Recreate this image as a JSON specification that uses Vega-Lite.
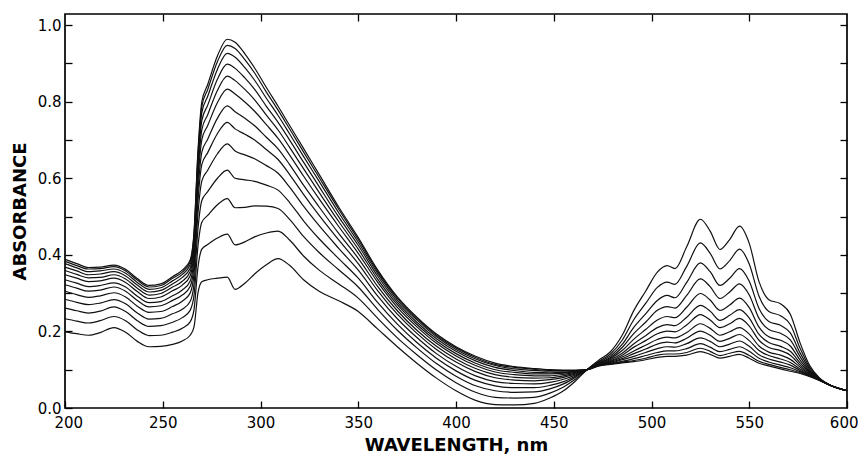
{
"$schema": "https://vega.github.io/schema/vega-lite/v6.json",
"width": 782, "height": 394,
"autosize": {"type": "none"},
"padding": {"left": 65, "top": 14, "right": 11, "bottom": 47},
"background": "white",
"config": {
 "view": {"stroke": "#000", "strokeWidth": 1.7},
 "axis": {"domain": false, "grid": false, "labelFlush": false, "tickColor": "#000", "tickWidth": 1.3, "labelColor": "#000", "titleColor": "#000", "labelFont": "DejaVu Sans", "labelFontSize": 15, "titleFont": "DejaVu Sans", "titleFontSize": 18, "titleFontWeight": "bold"}
},
"datasets": {"spectra": [
{"c":0,"w":200,"a":0.199},{"c":0,"w":206,"a":0.194},{"c":0,"w":212,"a":0.190},{"c":0,"w":218,"a":0.197},{"c":0,"w":225,"a":0.210},{"c":0,"w":231,"a":0.198},{"c":0,"w":237,"a":0.174},{"c":0,"w":243,"a":0.160},{"c":0,"w":249,"a":0.161},{"c":0,"w":255,"a":0.166},{"c":0,"w":260,"a":0.175},{"c":0,"w":264,"a":0.190},{"c":0,"w":266,"a":0.212},{"c":0,"w":268,"a":0.300},{"c":0,"w":270,"a":0.330},{"c":0,"w":273,"a":0.335},{"c":0,"w":278,"a":0.339},{"c":0,"w":283,"a":0.342},{"c":0,"w":287,"a":0.310},{"c":0,"w":292,"a":0.326},{"c":0,"w":297,"a":0.350},{"c":0,"w":303,"a":0.374},{"c":0,"w":309,"a":0.390},{"c":0,"w":315,"a":0.372},{"c":0,"w":322,"a":0.335},{"c":0,"w":330,"a":0.305},{"c":0,"w":340,"a":0.280},{"c":0,"w":350,"a":0.252},{"c":0,"w":360,"a":0.206},{"c":0,"w":370,"a":0.160},{"c":0,"w":380,"a":0.117},{"c":0,"w":390,"a":0.078},{"c":0,"w":400,"a":0.045},{"c":0,"w":410,"a":0.020},{"c":0,"w":420,"a":0.009},{"c":0,"w":430,"a":0.008},{"c":0,"w":440,"a":0.012},{"c":0,"w":448,"a":0.026},{"c":0,"w":455,"a":0.045},{"c":0,"w":461,"a":0.070},{"c":0,"w":467,"a":0.100},{"c":0,"w":473,"a":0.125},{"c":0,"w":479,"a":0.147},{"c":0,"w":485,"a":0.190},{"c":0,"w":491,"a":0.255},{"c":0,"w":497,"a":0.305},{"c":0,"w":503,"a":0.355},{"c":0,"w":508,"a":0.372},{"c":0,"w":512,"a":0.364},{"c":0,"w":518,"a":0.421},{"c":0,"w":525,"a":0.493},{"c":0,"w":530,"a":0.462},{"c":0,"w":535,"a":0.414},{"c":0,"w":540,"a":0.440},{"c":0,"w":545,"a":0.475},{"c":0,"w":550,"a":0.430},{"c":0,"w":555,"a":0.330},{"c":0,"w":560,"a":0.283},{"c":0,"w":566,"a":0.272},{"c":0,"w":571,"a":0.245},{"c":0,"w":576,"a":0.170},{"c":0,"w":581,"a":0.110},{"c":0,"w":586,"a":0.078},{"c":0,"w":592,"a":0.058},{"c":0,"w":600,"a":0.045},
{"c":1,"w":200,"a":0.233},{"c":1,"w":206,"a":0.227},{"c":1,"w":212,"a":0.222},{"c":1,"w":218,"a":0.228},{"c":1,"w":225,"a":0.239},{"c":1,"w":231,"a":0.228},{"c":1,"w":237,"a":0.204},{"c":1,"w":243,"a":0.189},{"c":1,"w":249,"a":0.190},{"c":1,"w":255,"a":0.198},{"c":1,"w":260,"a":0.208},{"c":1,"w":264,"a":0.225},{"c":1,"w":266,"a":0.257},{"c":1,"w":268,"a":0.367},{"c":1,"w":270,"a":0.415},{"c":1,"w":273,"a":0.427},{"c":1,"w":278,"a":0.444},{"c":1,"w":283,"a":0.454},{"c":1,"w":287,"a":0.426},{"c":1,"w":292,"a":0.434},{"c":1,"w":297,"a":0.447},{"c":1,"w":303,"a":0.457},{"c":1,"w":309,"a":0.462},{"c":1,"w":315,"a":0.438},{"c":1,"w":322,"a":0.397},{"c":1,"w":330,"a":0.360},{"c":1,"w":340,"a":0.324},{"c":1,"w":350,"a":0.287},{"c":1,"w":360,"a":0.234},{"c":1,"w":370,"a":0.183},{"c":1,"w":380,"a":0.139},{"c":1,"w":390,"a":0.099},{"c":1,"w":400,"a":0.066},{"c":1,"w":410,"a":0.041},{"c":1,"w":420,"a":0.028},{"c":1,"w":430,"a":0.026},{"c":1,"w":440,"a":0.028},{"c":1,"w":448,"a":0.039},{"c":1,"w":455,"a":0.055},{"c":1,"w":461,"a":0.075},{"c":1,"w":467,"a":0.100},{"c":1,"w":473,"a":0.122},{"c":1,"w":479,"a":0.141},{"c":1,"w":485,"a":0.177},{"c":1,"w":491,"a":0.231},{"c":1,"w":497,"a":0.273},{"c":1,"w":503,"a":0.315},{"c":1,"w":508,"a":0.329},{"c":1,"w":512,"a":0.323},{"c":1,"w":518,"a":0.370},{"c":1,"w":525,"a":0.431},{"c":1,"w":530,"a":0.404},{"c":1,"w":535,"a":0.363},{"c":1,"w":540,"a":0.385},{"c":1,"w":545,"a":0.415},{"c":1,"w":550,"a":0.376},{"c":1,"w":555,"a":0.292},{"c":1,"w":560,"a":0.252},{"c":1,"w":566,"a":0.241},{"c":1,"w":571,"a":0.218},{"c":1,"w":576,"a":0.156},{"c":1,"w":581,"a":0.105},{"c":1,"w":586,"a":0.077},{"c":1,"w":592,"a":0.058},{"c":1,"w":600,"a":0.045},
{"c":2,"w":200,"a":0.261},{"c":2,"w":206,"a":0.254},{"c":2,"w":212,"a":0.248},{"c":2,"w":218,"a":0.253},{"c":2,"w":225,"a":0.264},{"c":2,"w":231,"a":0.252},{"c":2,"w":237,"a":0.228},{"c":2,"w":243,"a":0.213},{"c":2,"w":249,"a":0.215},{"c":2,"w":255,"a":0.224},{"c":2,"w":260,"a":0.236},{"c":2,"w":264,"a":0.255},{"c":2,"w":266,"a":0.294},{"c":2,"w":268,"a":0.422},{"c":2,"w":270,"a":0.485},{"c":2,"w":273,"a":0.503},{"c":2,"w":278,"a":0.531},{"c":2,"w":283,"a":0.547},{"c":2,"w":287,"a":0.523},{"c":2,"w":292,"a":0.524},{"c":2,"w":297,"a":0.528},{"c":2,"w":303,"a":0.527},{"c":2,"w":309,"a":0.521},{"c":2,"w":315,"a":0.492},{"c":2,"w":322,"a":0.448},{"c":2,"w":330,"a":0.406},{"c":2,"w":340,"a":0.361},{"c":2,"w":350,"a":0.316},{"c":2,"w":360,"a":0.257},{"c":2,"w":370,"a":0.203},{"c":2,"w":380,"a":0.157},{"c":2,"w":390,"a":0.116},{"c":2,"w":400,"a":0.083},{"c":2,"w":410,"a":0.058},{"c":2,"w":420,"a":0.045},{"c":2,"w":430,"a":0.041},{"c":2,"w":440,"a":0.042},{"c":2,"w":448,"a":0.050},{"c":2,"w":455,"a":0.063},{"c":2,"w":461,"a":0.080},{"c":2,"w":467,"a":0.100},{"c":2,"w":473,"a":0.120},{"c":2,"w":479,"a":0.136},{"c":2,"w":485,"a":0.166},{"c":2,"w":491,"a":0.211},{"c":2,"w":497,"a":0.246},{"c":2,"w":503,"a":0.281},{"c":2,"w":508,"a":0.294},{"c":2,"w":512,"a":0.288},{"c":2,"w":518,"a":0.328},{"c":2,"w":525,"a":0.379},{"c":2,"w":530,"a":0.356},{"c":2,"w":535,"a":0.320},{"c":2,"w":540,"a":0.339},{"c":2,"w":545,"a":0.364},{"c":2,"w":550,"a":0.331},{"c":2,"w":555,"a":0.260},{"c":2,"w":560,"a":0.226},{"c":2,"w":566,"a":0.216},{"c":2,"w":571,"a":0.196},{"c":2,"w":576,"a":0.144},{"c":2,"w":581,"a":0.101},{"c":2,"w":586,"a":0.076},{"c":2,"w":592,"a":0.058},{"c":2,"w":600,"a":0.045},
{"c":3,"w":200,"a":0.284},{"c":3,"w":206,"a":0.276},{"c":3,"w":212,"a":0.270},{"c":3,"w":218,"a":0.274},{"c":3,"w":225,"a":0.283},{"c":3,"w":231,"a":0.272},{"c":3,"w":237,"a":0.248},{"c":3,"w":243,"a":0.232},{"c":3,"w":249,"a":0.234},{"c":3,"w":255,"a":0.246},{"c":3,"w":260,"a":0.258},{"c":3,"w":264,"a":0.278},{"c":3,"w":266,"a":0.324},{"c":3,"w":268,"a":0.467},{"c":3,"w":270,"a":0.542},{"c":3,"w":273,"a":0.565},{"c":3,"w":278,"a":0.600},{"c":3,"w":283,"a":0.621},{"c":3,"w":287,"a":0.600},{"c":3,"w":292,"a":0.596},{"c":3,"w":297,"a":0.592},{"c":3,"w":303,"a":0.582},{"c":3,"w":309,"a":0.569},{"c":3,"w":315,"a":0.536},{"c":3,"w":322,"a":0.489},{"c":3,"w":330,"a":0.442},{"c":3,"w":340,"a":0.390},{"c":3,"w":350,"a":0.339},{"c":3,"w":360,"a":0.275},{"c":3,"w":370,"a":0.219},{"c":3,"w":380,"a":0.171},{"c":3,"w":390,"a":0.130},{"c":3,"w":400,"a":0.097},{"c":3,"w":410,"a":0.072},{"c":3,"w":420,"a":0.058},{"c":3,"w":430,"a":0.053},{"c":3,"w":440,"a":0.053},{"c":3,"w":448,"a":0.059},{"c":3,"w":455,"a":0.069},{"c":3,"w":461,"a":0.083},{"c":3,"w":467,"a":0.100},{"c":3,"w":473,"a":0.118},{"c":3,"w":479,"a":0.132},{"c":3,"w":485,"a":0.158},{"c":3,"w":491,"a":0.195},{"c":3,"w":497,"a":0.224},{"c":3,"w":503,"a":0.255},{"c":3,"w":508,"a":0.265},{"c":3,"w":512,"a":0.261},{"c":3,"w":518,"a":0.294},{"c":3,"w":525,"a":0.337},{"c":3,"w":530,"a":0.317},{"c":3,"w":535,"a":0.286},{"c":3,"w":540,"a":0.303},{"c":3,"w":545,"a":0.324},{"c":3,"w":550,"a":0.295},{"c":3,"w":555,"a":0.234},{"c":3,"w":560,"a":0.205},{"c":3,"w":566,"a":0.195},{"c":3,"w":571,"a":0.178},{"c":3,"w":576,"a":0.134},{"c":3,"w":581,"a":0.097},{"c":3,"w":586,"a":0.075},{"c":3,"w":592,"a":0.058},{"c":3,"w":600,"a":0.045},
{"c":4,"w":200,"a":0.305},{"c":4,"w":206,"a":0.296},{"c":4,"w":212,"a":0.289},{"c":4,"w":218,"a":0.293},{"c":4,"w":225,"a":0.301},{"c":4,"w":231,"a":0.290},{"c":4,"w":237,"a":0.266},{"c":4,"w":243,"a":0.250},{"c":4,"w":249,"a":0.252},{"c":4,"w":255,"a":0.265},{"c":4,"w":260,"a":0.279},{"c":4,"w":264,"a":0.300},{"c":4,"w":266,"a":0.351},{"c":4,"w":268,"a":0.507},{"c":4,"w":270,"a":0.593},{"c":4,"w":273,"a":0.621},{"c":4,"w":278,"a":0.664},{"c":4,"w":283,"a":0.690},{"c":4,"w":287,"a":0.671},{"c":4,"w":292,"a":0.661},{"c":4,"w":297,"a":0.651},{"c":4,"w":303,"a":0.633},{"c":4,"w":309,"a":0.613},{"c":4,"w":315,"a":0.576},{"c":4,"w":322,"a":0.527},{"c":4,"w":330,"a":0.476},{"c":4,"w":340,"a":0.417},{"c":4,"w":350,"a":0.360},{"c":4,"w":360,"a":0.292},{"c":4,"w":370,"a":0.233},{"c":4,"w":380,"a":0.184},{"c":4,"w":390,"a":0.142},{"c":4,"w":400,"a":0.109},{"c":4,"w":410,"a":0.084},{"c":4,"w":420,"a":0.069},{"c":4,"w":430,"a":0.064},{"c":4,"w":440,"a":0.063},{"c":4,"w":448,"a":0.067},{"c":4,"w":455,"a":0.075},{"c":4,"w":461,"a":0.086},{"c":4,"w":467,"a":0.100},{"c":4,"w":473,"a":0.117},{"c":4,"w":479,"a":0.129},{"c":4,"w":485,"a":0.150},{"c":4,"w":491,"a":0.180},{"c":4,"w":497,"a":0.205},{"c":4,"w":503,"a":0.230},{"c":4,"w":508,"a":0.239},{"c":4,"w":512,"a":0.236},{"c":4,"w":518,"a":0.263},{"c":4,"w":525,"a":0.299},{"c":4,"w":530,"a":0.282},{"c":4,"w":535,"a":0.255},{"c":4,"w":540,"a":0.269},{"c":4,"w":545,"a":0.287},{"c":4,"w":550,"a":0.262},{"c":4,"w":555,"a":0.211},{"c":4,"w":560,"a":0.186},{"c":4,"w":566,"a":0.177},{"c":4,"w":571,"a":0.162},{"c":4,"w":576,"a":0.125},{"c":4,"w":581,"a":0.094},{"c":4,"w":586,"a":0.075},{"c":4,"w":592,"a":0.058},{"c":4,"w":600,"a":0.045},
{"c":5,"w":200,"a":0.322},{"c":5,"w":206,"a":0.313},{"c":5,"w":212,"a":0.305},{"c":5,"w":218,"a":0.308},{"c":5,"w":225,"a":0.316},{"c":5,"w":231,"a":0.305},{"c":5,"w":237,"a":0.281},{"c":5,"w":243,"a":0.264},{"c":5,"w":249,"a":0.267},{"c":5,"w":255,"a":0.281},{"c":5,"w":260,"a":0.295},{"c":5,"w":264,"a":0.317},{"c":5,"w":266,"a":0.373},{"c":5,"w":268,"a":0.541},{"c":5,"w":270,"a":0.636},{"c":5,"w":273,"a":0.667},{"c":5,"w":278,"a":0.717},{"c":5,"w":283,"a":0.746},{"c":5,"w":287,"a":0.729},{"c":5,"w":292,"a":0.715},{"c":5,"w":297,"a":0.700},{"c":5,"w":303,"a":0.675},{"c":5,"w":309,"a":0.649},{"c":5,"w":315,"a":0.609},{"c":5,"w":322,"a":0.558},{"c":5,"w":330,"a":0.503},{"c":5,"w":340,"a":0.439},{"c":5,"w":350,"a":0.377},{"c":5,"w":360,"a":0.306},{"c":5,"w":370,"a":0.245},{"c":5,"w":380,"a":0.195},{"c":5,"w":390,"a":0.153},{"c":5,"w":400,"a":0.120},{"c":5,"w":410,"a":0.095},{"c":5,"w":420,"a":0.079},{"c":5,"w":430,"a":0.073},{"c":5,"w":440,"a":0.071},{"c":5,"w":448,"a":0.074},{"c":5,"w":455,"a":0.080},{"c":5,"w":461,"a":0.089},{"c":5,"w":467,"a":0.100},{"c":5,"w":473,"a":0.115},{"c":5,"w":479,"a":0.126},{"c":5,"w":485,"a":0.143},{"c":5,"w":491,"a":0.168},{"c":5,"w":497,"a":0.189},{"c":5,"w":503,"a":0.210},{"c":5,"w":508,"a":0.218},{"c":5,"w":512,"a":0.215},{"c":5,"w":518,"a":0.237},{"c":5,"w":525,"a":0.268},{"c":5,"w":530,"a":0.253},{"c":5,"w":535,"a":0.229},{"c":5,"w":540,"a":0.242},{"c":5,"w":545,"a":0.257},{"c":5,"w":550,"a":0.235},{"c":5,"w":555,"a":0.192},{"c":5,"w":560,"a":0.171},{"c":5,"w":566,"a":0.161},{"c":5,"w":571,"a":0.148},{"c":5,"w":576,"a":0.118},{"c":5,"w":581,"a":0.092},{"c":5,"w":586,"a":0.074},{"c":5,"w":592,"a":0.058},{"c":5,"w":600,"a":0.045},
{"c":6,"w":200,"a":0.335},{"c":6,"w":206,"a":0.326},{"c":6,"w":212,"a":0.317},{"c":6,"w":218,"a":0.320},{"c":6,"w":225,"a":0.327},{"c":6,"w":231,"a":0.316},{"c":6,"w":237,"a":0.292},{"c":6,"w":243,"a":0.275},{"c":6,"w":249,"a":0.278},{"c":6,"w":255,"a":0.293},{"c":6,"w":260,"a":0.308},{"c":6,"w":264,"a":0.331},{"c":6,"w":266,"a":0.391},{"c":6,"w":268,"a":0.566},{"c":6,"w":270,"a":0.668},{"c":6,"w":273,"a":0.702},{"c":6,"w":278,"a":0.757},{"c":6,"w":283,"a":0.789},{"c":6,"w":287,"a":0.774},{"c":6,"w":292,"a":0.757},{"c":6,"w":297,"a":0.737},{"c":6,"w":303,"a":0.707},{"c":6,"w":309,"a":0.677},{"c":6,"w":315,"a":0.635},{"c":6,"w":322,"a":0.582},{"c":6,"w":330,"a":0.525},{"c":6,"w":340,"a":0.456},{"c":6,"w":350,"a":0.391},{"c":6,"w":360,"a":0.317},{"c":6,"w":370,"a":0.254},{"c":6,"w":380,"a":0.203},{"c":6,"w":390,"a":0.161},{"c":6,"w":400,"a":0.128},{"c":6,"w":410,"a":0.103},{"c":6,"w":420,"a":0.087},{"c":6,"w":430,"a":0.080},{"c":6,"w":440,"a":0.078},{"c":6,"w":448,"a":0.079},{"c":6,"w":455,"a":0.084},{"c":6,"w":461,"a":0.091},{"c":6,"w":467,"a":0.100},{"c":6,"w":473,"a":0.114},{"c":6,"w":479,"a":0.123},{"c":6,"w":485,"a":0.138},{"c":6,"w":491,"a":0.159},{"c":6,"w":497,"a":0.176},{"c":6,"w":503,"a":0.194},{"c":6,"w":508,"a":0.201},{"c":6,"w":512,"a":0.199},{"c":6,"w":518,"a":0.217},{"c":6,"w":525,"a":0.244},{"c":6,"w":530,"a":0.230},{"c":6,"w":535,"a":0.210},{"c":6,"w":540,"a":0.220},{"c":6,"w":545,"a":0.234},{"c":6,"w":550,"a":0.214},{"c":6,"w":555,"a":0.177},{"c":6,"w":560,"a":0.158},{"c":6,"w":566,"a":0.150},{"c":6,"w":571,"a":0.138},{"c":6,"w":576,"a":0.112},{"c":6,"w":581,"a":0.090},{"c":6,"w":586,"a":0.074},{"c":6,"w":592,"a":0.058},{"c":6,"w":600,"a":0.045},
{"c":7,"w":200,"a":0.348},{"c":7,"w":206,"a":0.339},{"c":7,"w":212,"a":0.330},{"c":7,"w":218,"a":0.332},{"c":7,"w":225,"a":0.339},{"c":7,"w":231,"a":0.328},{"c":7,"w":237,"a":0.304},{"c":7,"w":243,"a":0.286},{"c":7,"w":249,"a":0.290},{"c":7,"w":255,"a":0.306},{"c":7,"w":260,"a":0.321},{"c":7,"w":264,"a":0.345},{"c":7,"w":266,"a":0.408},{"c":7,"w":268,"a":0.592},{"c":7,"w":270,"a":0.701},{"c":7,"w":273,"a":0.738},{"c":7,"w":278,"a":0.798},{"c":7,"w":283,"a":0.833},{"c":7,"w":287,"a":0.820},{"c":7,"w":292,"a":0.799},{"c":7,"w":297,"a":0.775},{"c":7,"w":303,"a":0.740},{"c":7,"w":309,"a":0.704},{"c":7,"w":315,"a":0.660},{"c":7,"w":322,"a":0.606},{"c":7,"w":330,"a":0.546},{"c":7,"w":340,"a":0.474},{"c":7,"w":350,"a":0.404},{"c":7,"w":360,"a":0.328},{"c":7,"w":370,"a":0.263},{"c":7,"w":380,"a":0.212},{"c":7,"w":390,"a":0.169},{"c":7,"w":400,"a":0.136},{"c":7,"w":410,"a":0.111},{"c":7,"w":420,"a":0.094},{"c":7,"w":430,"a":0.087},{"c":7,"w":440,"a":0.084},{"c":7,"w":448,"a":0.084},{"c":7,"w":455,"a":0.088},{"c":7,"w":461,"a":0.093},{"c":7,"w":467,"a":0.100},{"c":7,"w":473,"a":0.113},{"c":7,"w":479,"a":0.121},{"c":7,"w":485,"a":0.133},{"c":7,"w":491,"a":0.149},{"c":7,"w":497,"a":0.164},{"c":7,"w":503,"a":0.179},{"c":7,"w":508,"a":0.185},{"c":7,"w":512,"a":0.183},{"c":7,"w":518,"a":0.197},{"c":7,"w":525,"a":0.220},{"c":7,"w":530,"a":0.208},{"c":7,"w":535,"a":0.190},{"c":7,"w":540,"a":0.199},{"c":7,"w":545,"a":0.210},{"c":7,"w":550,"a":0.193},{"c":7,"w":555,"a":0.162},{"c":7,"w":560,"a":0.146},{"c":7,"w":566,"a":0.138},{"c":7,"w":571,"a":0.127},{"c":7,"w":576,"a":0.107},{"c":7,"w":581,"a":0.088},{"c":7,"w":586,"a":0.073},{"c":7,"w":592,"a":0.058},{"c":7,"w":600,"a":0.045},
{"c":8,"w":200,"a":0.359},{"c":8,"w":206,"a":0.349},{"c":8,"w":212,"a":0.340},{"c":8,"w":218,"a":0.341},{"c":8,"w":225,"a":0.348},{"c":8,"w":231,"a":0.337},{"c":8,"w":237,"a":0.313},{"c":8,"w":243,"a":0.295},{"c":8,"w":249,"a":0.299},{"c":8,"w":255,"a":0.316},{"c":8,"w":260,"a":0.331},{"c":8,"w":264,"a":0.356},{"c":8,"w":266,"a":0.422},{"c":8,"w":268,"a":0.613},{"c":8,"w":270,"a":0.727},{"c":8,"w":273,"a":0.766},{"c":8,"w":278,"a":0.830},{"c":8,"w":283,"a":0.867},{"c":8,"w":287,"a":0.855},{"c":8,"w":292,"a":0.832},{"c":8,"w":297,"a":0.805},{"c":8,"w":303,"a":0.765},{"c":8,"w":309,"a":0.726},{"c":8,"w":315,"a":0.680},{"c":8,"w":322,"a":0.625},{"c":8,"w":330,"a":0.563},{"c":8,"w":340,"a":0.487},{"c":8,"w":350,"a":0.415},{"c":8,"w":360,"a":0.336},{"c":8,"w":370,"a":0.270},{"c":8,"w":380,"a":0.218},{"c":8,"w":390,"a":0.175},{"c":8,"w":400,"a":0.142},{"c":8,"w":410,"a":0.117},{"c":8,"w":420,"a":0.100},{"c":8,"w":430,"a":0.093},{"c":8,"w":440,"a":0.089},{"c":8,"w":448,"a":0.089},{"c":8,"w":455,"a":0.091},{"c":8,"w":461,"a":0.095},{"c":8,"w":467,"a":0.100},{"c":8,"w":473,"a":0.112},{"c":8,"w":479,"a":0.119},{"c":8,"w":485,"a":0.129},{"c":8,"w":491,"a":0.142},{"c":8,"w":497,"a":0.154},{"c":8,"w":503,"a":0.167},{"c":8,"w":508,"a":0.172},{"c":8,"w":512,"a":0.170},{"c":8,"w":518,"a":0.182},{"c":8,"w":525,"a":0.201},{"c":8,"w":530,"a":0.190},{"c":8,"w":535,"a":0.174},{"c":8,"w":540,"a":0.182},{"c":8,"w":545,"a":0.192},{"c":8,"w":550,"a":0.176},{"c":8,"w":555,"a":0.150},{"c":8,"w":560,"a":0.137},{"c":8,"w":566,"a":0.128},{"c":8,"w":571,"a":0.119},{"c":8,"w":576,"a":0.102},{"c":8,"w":581,"a":0.086},{"c":8,"w":586,"a":0.073},{"c":8,"w":592,"a":0.058},{"c":8,"w":600,"a":0.045},
{"c":9,"w":200,"a":0.368},{"c":9,"w":206,"a":0.358},{"c":9,"w":212,"a":0.348},{"c":9,"w":218,"a":0.350},{"c":9,"w":225,"a":0.356},{"c":9,"w":231,"a":0.345},{"c":9,"w":237,"a":0.321},{"c":9,"w":243,"a":0.303},{"c":9,"w":249,"a":0.307},{"c":9,"w":255,"a":0.324},{"c":9,"w":260,"a":0.341},{"c":9,"w":264,"a":0.365},{"c":9,"w":266,"a":0.434},{"c":9,"w":268,"a":0.631},{"c":9,"w":270,"a":0.751},{"c":9,"w":273,"a":0.791},{"c":9,"w":278,"a":0.859},{"c":9,"w":283,"a":0.898},{"c":9,"w":287,"a":0.887},{"c":9,"w":292,"a":0.862},{"c":9,"w":297,"a":0.832},{"c":9,"w":303,"a":0.788},{"c":9,"w":309,"a":0.746},{"c":9,"w":315,"a":0.699},{"c":9,"w":322,"a":0.642},{"c":9,"w":330,"a":0.578},{"c":9,"w":340,"a":0.499},{"c":9,"w":350,"a":0.425},{"c":9,"w":360,"a":0.344},{"c":9,"w":370,"a":0.276},{"c":9,"w":380,"a":0.224},{"c":9,"w":390,"a":0.181},{"c":9,"w":400,"a":0.148},{"c":9,"w":410,"a":0.123},{"c":9,"w":420,"a":0.106},{"c":9,"w":430,"a":0.098},{"c":9,"w":440,"a":0.093},{"c":9,"w":448,"a":0.092},{"c":9,"w":455,"a":0.093},{"c":9,"w":461,"a":0.096},{"c":9,"w":467,"a":0.100},{"c":9,"w":473,"a":0.112},{"c":9,"w":479,"a":0.117},{"c":9,"w":485,"a":0.126},{"c":9,"w":491,"a":0.135},{"c":9,"w":497,"a":0.145},{"c":9,"w":503,"a":0.155},{"c":9,"w":508,"a":0.160},{"c":9,"w":512,"a":0.159},{"c":9,"w":518,"a":0.168},{"c":9,"w":525,"a":0.183},{"c":9,"w":530,"a":0.174},{"c":9,"w":535,"a":0.160},{"c":9,"w":540,"a":0.167},{"c":9,"w":545,"a":0.175},{"c":9,"w":550,"a":0.161},{"c":9,"w":555,"a":0.139},{"c":9,"w":560,"a":0.128},{"c":9,"w":566,"a":0.120},{"c":9,"w":571,"a":0.112},{"c":9,"w":576,"a":0.098},{"c":9,"w":581,"a":0.085},{"c":9,"w":586,"a":0.073},{"c":9,"w":592,"a":0.058},{"c":9,"w":600,"a":0.045},
{"c":10,"w":200,"a":0.377},{"c":10,"w":206,"a":0.366},{"c":10,"w":212,"a":0.356},{"c":10,"w":218,"a":0.358},{"c":10,"w":225,"a":0.363},{"c":10,"w":231,"a":0.352},{"c":10,"w":237,"a":0.328},{"c":10,"w":243,"a":0.310},{"c":10,"w":249,"a":0.314},{"c":10,"w":255,"a":0.332},{"c":10,"w":260,"a":0.349},{"c":10,"w":264,"a":0.374},{"c":10,"w":266,"a":0.445},{"c":10,"w":268,"a":0.648},{"c":10,"w":270,"a":0.772},{"c":10,"w":273,"a":0.814},{"c":10,"w":278,"a":0.885},{"c":10,"w":283,"a":0.926},{"c":10,"w":287,"a":0.916},{"c":10,"w":292,"a":0.889},{"c":10,"w":297,"a":0.856},{"c":10,"w":303,"a":0.809},{"c":10,"w":309,"a":0.764},{"c":10,"w":315,"a":0.715},{"c":10,"w":322,"a":0.657},{"c":10,"w":330,"a":0.592},{"c":10,"w":340,"a":0.510},{"c":10,"w":350,"a":0.433},{"c":10,"w":360,"a":0.351},{"c":10,"w":370,"a":0.282},{"c":10,"w":380,"a":0.230},{"c":10,"w":390,"a":0.186},{"c":10,"w":400,"a":0.153},{"c":10,"w":410,"a":0.128},{"c":10,"w":420,"a":0.111},{"c":10,"w":430,"a":0.102},{"c":10,"w":440,"a":0.098},{"c":10,"w":448,"a":0.096},{"c":10,"w":455,"a":0.096},{"c":10,"w":461,"a":0.097},{"c":10,"w":467,"a":0.100},{"c":10,"w":473,"a":0.111},{"c":10,"w":479,"a":0.116},{"c":10,"w":485,"a":0.122},{"c":10,"w":491,"a":0.129},{"c":10,"w":497,"a":0.137},{"c":10,"w":503,"a":0.145},{"c":10,"w":508,"a":0.149},{"c":10,"w":512,"a":0.149},{"c":10,"w":518,"a":0.155},{"c":10,"w":525,"a":0.168},{"c":10,"w":530,"a":0.159},{"c":10,"w":535,"a":0.147},{"c":10,"w":540,"a":0.153},{"c":10,"w":545,"a":0.160},{"c":10,"w":550,"a":0.148},{"c":10,"w":555,"a":0.130},{"c":10,"w":560,"a":0.120},{"c":10,"w":566,"a":0.112},{"c":10,"w":571,"a":0.105},{"c":10,"w":576,"a":0.095},{"c":10,"w":581,"a":0.084},{"c":10,"w":586,"a":0.072},{"c":10,"w":592,"a":0.058},{"c":10,"w":600,"a":0.045},
{"c":11,"w":200,"a":0.383},{"c":11,"w":206,"a":0.372},{"c":11,"w":212,"a":0.363},{"c":11,"w":218,"a":0.364},{"c":11,"w":225,"a":0.369},{"c":11,"w":231,"a":0.358},{"c":11,"w":237,"a":0.334},{"c":11,"w":243,"a":0.316},{"c":11,"w":249,"a":0.320},{"c":11,"w":255,"a":0.339},{"c":11,"w":260,"a":0.355},{"c":11,"w":264,"a":0.381},{"c":11,"w":266,"a":0.454},{"c":11,"w":268,"a":0.661},{"c":11,"w":270,"a":0.788},{"c":11,"w":273,"a":0.832},{"c":11,"w":278,"a":0.905},{"c":11,"w":283,"a":0.947},{"c":11,"w":287,"a":0.939},{"c":11,"w":292,"a":0.910},{"c":11,"w":297,"a":0.875},{"c":11,"w":303,"a":0.825},{"c":11,"w":309,"a":0.778},{"c":11,"w":315,"a":0.728},{"c":11,"w":322,"a":0.669},{"c":11,"w":330,"a":0.602},{"c":11,"w":340,"a":0.519},{"c":11,"w":350,"a":0.440},{"c":11,"w":360,"a":0.356},{"c":11,"w":370,"a":0.287},{"c":11,"w":380,"a":0.234},{"c":11,"w":390,"a":0.190},{"c":11,"w":400,"a":0.157},{"c":11,"w":410,"a":0.132},{"c":11,"w":420,"a":0.114},{"c":11,"w":430,"a":0.106},{"c":11,"w":440,"a":0.101},{"c":11,"w":448,"a":0.098},{"c":11,"w":455,"a":0.098},{"c":11,"w":461,"a":0.098},{"c":11,"w":467,"a":0.100},{"c":11,"w":473,"a":0.110},{"c":11,"w":479,"a":0.115},{"c":11,"w":485,"a":0.120},{"c":11,"w":491,"a":0.124},{"c":11,"w":497,"a":0.130},{"c":11,"w":503,"a":0.138},{"c":11,"w":508,"a":0.141},{"c":11,"w":512,"a":0.141},{"c":11,"w":518,"a":0.145},{"c":11,"w":525,"a":0.156},{"c":11,"w":530,"a":0.148},{"c":11,"w":535,"a":0.137},{"c":11,"w":540,"a":0.143},{"c":11,"w":545,"a":0.148},{"c":11,"w":550,"a":0.137},{"c":11,"w":555,"a":0.122},{"c":11,"w":560,"a":0.114},{"c":11,"w":566,"a":0.106},{"c":11,"w":571,"a":0.100},{"c":11,"w":576,"a":0.092},{"c":11,"w":581,"a":0.083},{"c":11,"w":586,"a":0.072},{"c":11,"w":592,"a":0.058},{"c":11,"w":600,"a":0.045},
{"c":12,"w":200,"a":0.388},{"c":12,"w":206,"a":0.377},{"c":12,"w":212,"a":0.367},{"c":12,"w":218,"a":0.368},{"c":12,"w":225,"a":0.373},{"c":12,"w":231,"a":0.362},{"c":12,"w":237,"a":0.338},{"c":12,"w":243,"a":0.320},{"c":12,"w":249,"a":0.324},{"c":12,"w":255,"a":0.343},{"c":12,"w":260,"a":0.360},{"c":12,"w":264,"a":0.386},{"c":12,"w":266,"a":0.460},{"c":12,"w":268,"a":0.670},{"c":12,"w":270,"a":0.800},{"c":12,"w":273,"a":0.845},{"c":12,"w":278,"a":0.920},{"c":12,"w":283,"a":0.963},{"c":12,"w":287,"a":0.955},{"c":12,"w":292,"a":0.925},{"c":12,"w":297,"a":0.888},{"c":12,"w":303,"a":0.837},{"c":12,"w":309,"a":0.788},{"c":12,"w":315,"a":0.737},{"c":12,"w":322,"a":0.678},{"c":12,"w":330,"a":0.610},{"c":12,"w":340,"a":0.525},{"c":12,"w":350,"a":0.445},{"c":12,"w":360,"a":0.360},{"c":12,"w":370,"a":0.290},{"c":12,"w":380,"a":0.237},{"c":12,"w":390,"a":0.193},{"c":12,"w":400,"a":0.160},{"c":12,"w":410,"a":0.135},{"c":12,"w":420,"a":0.117},{"c":12,"w":430,"a":0.108},{"c":12,"w":440,"a":0.103},{"c":12,"w":448,"a":0.100},{"c":12,"w":455,"a":0.099},{"c":12,"w":461,"a":0.099},{"c":12,"w":467,"a":0.100},{"c":12,"w":473,"a":0.110},{"c":12,"w":479,"a":0.114},{"c":12,"w":485,"a":0.118},{"c":12,"w":491,"a":0.121},{"c":12,"w":497,"a":0.126},{"c":12,"w":503,"a":0.132},{"c":12,"w":508,"a":0.135},{"c":12,"w":512,"a":0.135},{"c":12,"w":518,"a":0.138},{"c":12,"w":525,"a":0.147},{"c":12,"w":530,"a":0.140},{"c":12,"w":535,"a":0.130},{"c":12,"w":540,"a":0.135},{"c":12,"w":545,"a":0.140},{"c":12,"w":550,"a":0.130},{"c":12,"w":555,"a":0.117},{"c":12,"w":560,"a":0.110},{"c":12,"w":566,"a":0.102},{"c":12,"w":571,"a":0.096},{"c":12,"w":576,"a":0.090},{"c":12,"w":581,"a":0.082},{"c":12,"w":586,"a":0.072},{"c":12,"w":592,"a":0.058},{"c":12,"w":600,"a":0.045}
]},
"data": {"name": "spectra"},
"layer": [
 {
  "mark": {"type": "line", "interpolate": "monotone", "stroke": "#111", "strokeWidth": 1.2},
  "encoding": {
   "x": {"field": "w", "type": "quantitative", "scale": {"domain": [200, 600], "nice": false, "zero": false},
         "axis": {"orient": "bottom", "values": [200, 250, 300, 350, 400, 450, 500, 550, 600], "tickSize": -7, "labelPadding": 14, "labelFlush": true, "labelFlushOffset": 11, "title": "WAVELENGTH, nm", "titlePadding": 6}},
   "y": {"field": "a", "type": "quantitative", "scale": {"domain": [0, 1.029], "nice": false, "zero": true},
         "axis": {"orient": "left", "values": [0, 0.1, 0.2, 0.3, 0.4, 0.5, 0.6, 0.7, 0.8, 0.9, 1.0], "tickSize": -7, "labelPadding": 11,
                  "labelExpr": "indexof(['0.0','0.2','0.4','0.6','0.8','1.0'], format(datum.value, '.1f')) >= 0 ? format(datum.value, '.1f') : ''",
                  "title": "ABSORBANCE", "titlePadding": 8}},
   "detail": {"field": "c", "type": "nominal"}
  }
 },
 {
  "mark": {"type": "line", "opacity": 0},
  "encoding": {
   "x": {"field": "w", "type": "quantitative", "scale": {"domain": [200, 600], "nice": false, "zero": false},
         "axis": {"orient": "top", "values": [250, 300, 350, 400, 450, 500, 550], "tickSize": -7, "labels": false, "title": null}},
   "y": {"field": "a", "type": "quantitative", "scale": {"domain": [0, 1.029], "nice": false, "zero": true},
         "axis": {"orient": "right", "values": [0.1, 0.2, 0.3, 0.4, 0.5, 0.6, 0.7, 0.8, 0.9, 1.0], "tickSize": -7, "labels": false, "title": null}},
   "detail": {"field": "c", "type": "nominal"}
  }
 }
],
"resolve": {"axis": {"x": "independent", "y": "independent"}}
}
